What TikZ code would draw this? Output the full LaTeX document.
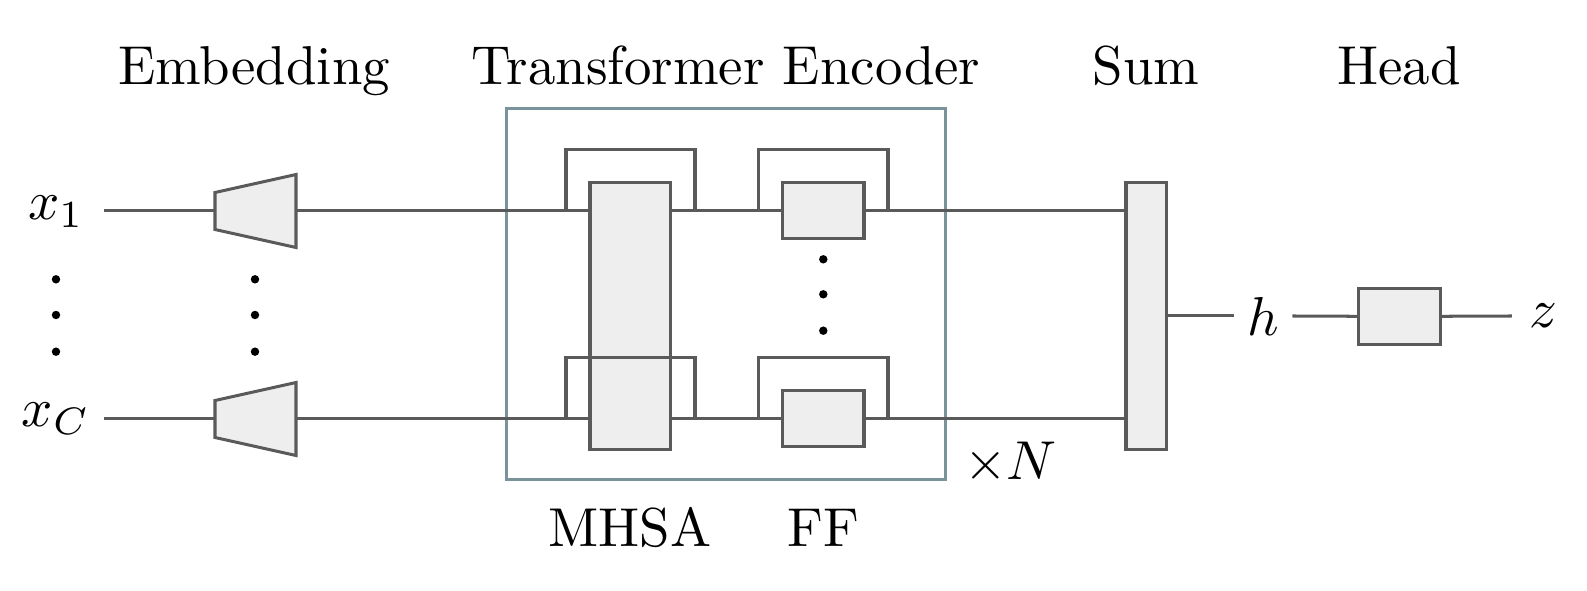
\documentclass[tikz,border=0pt]{standalone}
\usetikzlibrary{fit}
\definecolor{lgray}{RGB}{90,90,90}
\definecolor{bfill}{RGB}{238,238,238}
\definecolor{encc}{RGB}{122,147,155}
\begin{document}
\begin{tikzpicture}[x=0.1825pt,y=-0.1825pt,
  wire/.style={draw=lgray,line width=0.55pt},
  blk/.style={draw=lgray,fill=bfill,line width=0.55pt,inner sep=0pt},
  encbox/.style={draw=encc,line width=0.55pt,inner sep=0pt},
  ttl/.style={anchor=base,inner sep=0pt},
  dotc/.style={fill=black}]
\useasboundingbox (0,0) rectangle (1587,591);

% titles
\node[ttl] (tEmb) at (254,84.3) {Embedding};
\node[ttl] (tEnc) at (726,84.3) {Transformer Encoder};
\node[ttl] (tSum) at (1146,84.3) {Sum};
\node[ttl] (tHead) at (1399,84.3) {Head};
\node[ttl] (tMHSA) at (630,547) {MHSA};
\node[ttl] (tFF) at (823,547) {FF};
\node[anchor=base west,inner sep=0pt] (tN) at (963,480) {$\times N$};

% encoder frame
\node[encbox,fit={(506.7,108.3)(945.7,480)}] (enc) {};

% inputs
\node (x1) at (56,212) {$x_1$};
\node (xC) at (56,419) {$x_C$};
\coordinate (i1) at (104,211);
\coordinate (iC) at (104,419);

% embedding trapezoids
\coordinate (e1in) at (215,211);
\coordinate (e1out) at (296,211);
\coordinate (eCin) at (215,419);
\coordinate (eCout) at (296,419);
\draw[blk] (215,192.5) -- (296,174.5) -- (296,247.5) -- (215,229.5) -- cycle;
\draw[blk] (215,400.5) -- (296,382.5) -- (296,455.5) -- (215,437.5) -- cycle;

% blocks
\node[blk,fit={(590,182.7)(670.7,450)}] (mhsa) {};
\node[blk,fit={(782.7,183)(864,239)}] (ff1) {};
\node[blk,fit={(782.7,391)(864,447)}] (ffC) {};
\node[blk,fit={(1126,182.7)(1166.7,450)}] (sum) {};
\node[blk,fit={(1358.3,288.3)(1440,344.3)}] (head) {};

% outputs
\node[inner sep=2.3pt] (h) at (1263,316) {$h$};
\node[inner sep=3pt] (z) at (1543.4,316) {$z$};

% wires, row 1
\draw[wire] (i1) -- (e1in);
\draw[wire] (e1out) -- (e1out -| mhsa.west);
\draw[wire] (e1out -| mhsa.east) -- (e1out -| ff1.west);
\draw[wire] (e1out -| ff1.east) -- (e1out -| sum.west);
\draw[wire] (566,211) |- (695,150) -- (695,211);
\draw[wire] (758.7,211) |- (888,150) -- (888,211);

% wires, row C
\draw[wire] (iC) -- (eCin);
\draw[wire] (eCout) -- (eCout -| mhsa.west);
\draw[wire] (eCout -| mhsa.east) -- (eCout -| ffC.west);
\draw[wire] (eCout -| ffC.east) -- (eCout -| sum.west);
\draw[wire] (566,419) |- (695,357.3) -- (695,419);
\draw[wire] (758.7,419) |- (888,357.3) -- (888,419);

% sum to head
\draw[wire] (sum.east |- h) -- (h.west);
\draw[wire] (h.east) -- (head.west);
\draw[wire] (head.east) -- (z.west);

% dots
\foreach \yy in {279.3,315,351.7} {
  \fill[dotc] (56,\yy) circle[radius=0.77pt];
  \fill[dotc] (255,\yy) circle[radius=0.77pt];
}
\foreach \yy in {259.3,294.3,330.7} {
  \fill[dotc] (823.3,\yy) circle[radius=0.77pt];
}
\end{tikzpicture}
\end{document}
